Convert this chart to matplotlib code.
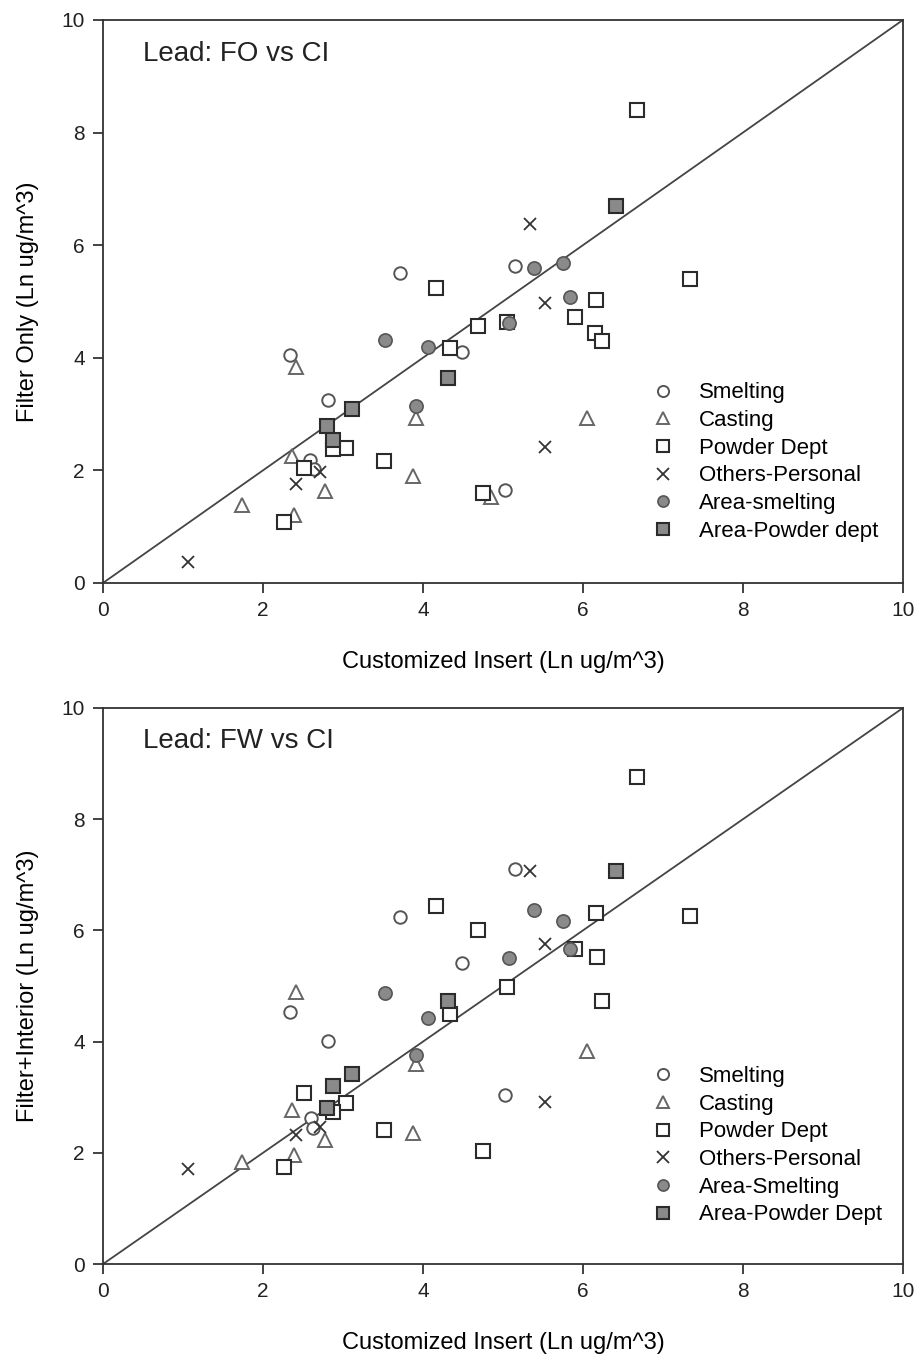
import numpy as np
import matplotlib
matplotlib.use("Agg")
import matplotlib.pyplot as plt

# ---- data: top panel (Filter Only vs Customized Insert) ----
fo_smelt_x = [2.34, 3.71, 2.81, 4.49, 5.15, 5.03, 2.59, 2.64]
fo_smelt_y = [4.05, 5.51, 3.25, 4.10, 5.63, 1.65, 2.18, 2.02]
fo_cast_x = [2.41, 1.74, 2.36, 2.39, 2.78, 3.91, 3.88, 4.85, 6.05]
fo_cast_y = [3.84, 1.39, 2.26, 1.21, 1.63, 2.93, 1.90, 1.53, 2.93]
fo_powder_x = [6.68, 7.34, 4.16, 4.69, 5.05, 4.34, 5.90, 6.16, 6.15, 6.24,
               3.04, 2.88, 3.51, 2.51, 2.26, 4.75]
fo_powder_y = [8.40, 5.40, 5.24, 4.56, 4.64, 4.17, 4.72, 5.03, 4.44, 4.30,
               2.40, 2.38, 2.17, 2.04, 1.08, 1.60]
fo_other_x = [1.06, 5.34, 5.53, 5.53, 2.41, 2.71]
fo_other_y = [0.37, 6.38, 4.97, 2.42, 1.76, 1.97]
fo_area_smelt_x = [3.52, 4.06, 3.91, 5.07, 5.39, 5.75, 5.84]
fo_area_smelt_y = [4.32, 4.19, 3.14, 4.62, 5.60, 5.68, 5.08]
fo_area_powder_x = [6.41, 4.31, 3.11, 2.80, 2.88]
fo_area_powder_y = [6.70, 3.64, 3.09, 2.79, 2.54]

# ---- data: bottom panel (Filter+Interior vs Customized Insert) ----
fw_smelt_x = [2.34, 3.71, 2.81, 4.49, 5.15, 5.03, 2.60, 2.62]
fw_smelt_y = [4.53, 6.24, 4.01, 5.41, 7.10, 3.04, 2.63, 2.45]
fw_cast_x = [2.41, 1.74, 2.36, 2.39, 2.78, 3.91, 3.88, 6.05]
fw_cast_y = [4.89, 1.83, 2.77, 1.96, 2.23, 3.60, 2.36, 3.83]
fw_powder_x = [6.68, 7.34, 4.16, 4.69, 5.05, 4.34, 5.90, 6.16, 6.17, 6.24,
               3.04, 2.88, 3.51, 2.51, 2.26, 4.75]
fw_powder_y = [8.76, 6.26, 6.44, 6.01, 4.98, 4.50, 5.67, 6.31, 5.52, 4.73,
               2.90, 2.73, 2.41, 3.08, 1.74, 2.03]
fw_other_x = [1.06, 5.34, 5.53, 5.53, 2.41, 2.71]
fw_other_y = [1.71, 7.07, 5.76, 2.91, 2.32, 2.46]
fw_area_smelt_x = [3.52, 4.06, 3.91, 5.07, 5.39, 5.75, 5.84]
fw_area_smelt_y = [4.87, 4.42, 3.76, 5.50, 6.37, 6.17, 5.67]
fw_area_powder_x = [6.41, 4.31, 3.11, 2.88, 2.80]
fw_area_powder_y = [7.07, 4.73, 3.42, 3.20, 2.81]

top_labels = ["Smelting", "Casting", "Powder Dept", "Others-Personal",
              "Area-smelting", "Area-Powder dept"]
bottom_labels = ["Smelting", "Casting", "Powder Dept", "Others-Personal",
                 "Area-Smelting", "Area-Powder Dept"]

plt.rcParams['font.family'] = ['Liberation Sans', 'DejaVu Sans']

EDGE = '#2b2b2b'
GRAY = '#8a8a8a'


def draw_panel(ax, series, labels, title, ylabel):
    styles = [
        dict(marker='o', ms=9, mfc='white', mec='#555555', mew=1.4),
        dict(marker='^', ms=9.5, mfc='white', mec='#666666', mew=1.4),
        dict(marker='s', ms=10, mfc='white', mec=EDGE, mew=1.5),
        dict(marker='x', ms=9, mec='#333333', mew=1.3),
        dict(marker='o', ms=9.5, mfc=GRAY, mec='#555555', mew=1.2),
        dict(marker='s', ms=10, mfc=GRAY, mec=EDGE, mew=1.5),
    ]
    ax.plot([0, 10], [0, 10], color='#444444', lw=1.3, zorder=1)
    for (xs, ys), st, lab in zip(series, styles, labels):
        ax.plot(xs, ys, ls='none', label=lab, zorder=3, **st)
    ax.set_xlim(0, 10)
    ax.set_ylim(0, 10)
    ax.set_xticks(range(0, 11, 2))
    ax.set_yticks(range(0, 11, 2))
    ax.tick_params(direction='out', length=7, width=1.2, labelsize=15,
                   colors='#222222', pad=6)
    for s in ax.spines.values():
        s.set_linewidth(1.3)
        s.set_color('#333333')
    ax.set_xlabel("Customized Insert (Ln ug/m^3)", fontsize=17, labelpad=22)
    ax.set_ylabel(ylabel, fontsize=17, labelpad=16)
    ax.text(0.05, 0.94, title, transform=ax.transAxes, fontsize=20,
            va='center', ha='left', color='#222222')
    leg = ax.legend(loc='upper left', bbox_to_anchor=(0.67, 0.376),
                    frameon=False, fontsize=16, handlelength=1.2,
                    handletextpad=1.0, labelspacing=0.3, borderpad=0)
    for h in leg.legend_handles:
        h.set_markersize(8)


fig = plt.figure(figsize=(9.17, 13.57), dpi=100)
ax1 = fig.add_axes([0.1123, 0.5704, 0.8724, 0.4149])
ax2 = fig.add_axes([0.1123, 0.0685, 0.8724, 0.4098])

draw_panel(ax1, [(fo_smelt_x, fo_smelt_y), (fo_cast_x, fo_cast_y),
                 (fo_powder_x, fo_powder_y), (fo_other_x, fo_other_y),
                 (fo_area_smelt_x, fo_area_smelt_y),
                 (fo_area_powder_x, fo_area_powder_y)],
           top_labels, "Lead: FO vs CI", "Filter Only (Ln ug/m^3)")
draw_panel(ax2, [(fw_smelt_x, fw_smelt_y), (fw_cast_x, fw_cast_y),
                 (fw_powder_x, fw_powder_y), (fw_other_x, fw_other_y),
                 (fw_area_smelt_x, fw_area_smelt_y),
                 (fw_area_powder_x, fw_area_powder_y)],
           bottom_labels, "Lead: FW vs CI", "Filter+Interior (Ln ug/m^3)")

fig.savefig("out.png", dpi=100)
